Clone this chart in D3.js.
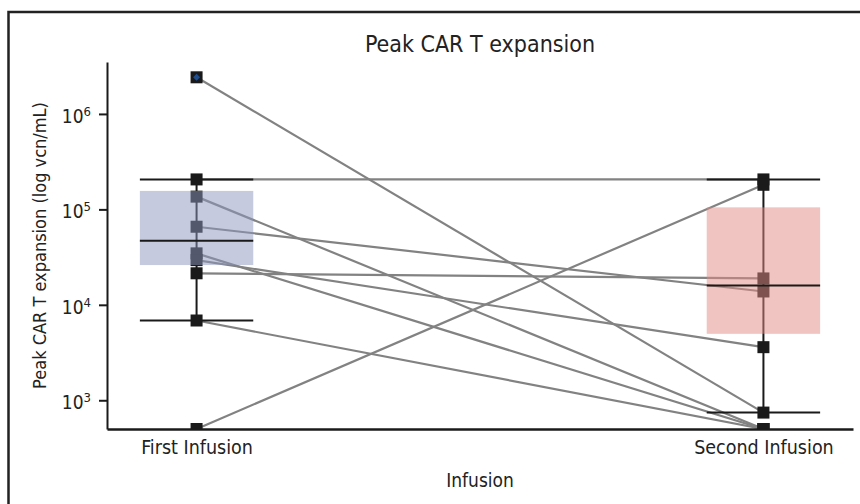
<!DOCTYPE html>
<html>
<head>
<meta charset="utf-8">
<script src="https://cdn.jsdelivr.net/npm/d3@7"></script>
<style>
  html, body { margin: 0; padding: 0; background: #fff; }
  svg { display: block; }
  text { font-family: "DejaVu Sans Condensed", "Liberation Sans Narrow", "Noto Sans", sans-serif; fill: #222; }
</style>
</head>
<body>
<script>
// Infusion groups on the x axis
const categories = ["First Infusion", "Second Infusion"];

// Peak CAR T expansion per patient (vcn/mL); index i is the same patient in both arrays
const firstInfusion  = [2.42e6, 2.06e5, 1.36e5, 6.58e4, 3.46e4, 2.94e4, 2.14e4, 6.85e3, 500];
const secondInfusion = [743,    2.06e5, 500,    1.38e4, 500,    3.6e3,  1.89e4, 500,    1.81e5];

// Summary box per group: box bounds, centre line and whisker caps
const boxLow      = [2.61e4, 4.97e3];
const boxHigh     = [1.56e5, 1.05e5];
const boxMid      = [4.69e4, 1.59e4];
const whiskerLow  = [6.85e3, 743];
const whiskerHigh = [2.06e5, 2.06e5];

// Log-axis ticks (base and exponent)
const tickExponents = [3, 4, 5, 6];

const boxColors = ["rgba(139,149,189,0.5)", "rgba(225,137,129,0.5)"];

const W = 860, H = 504;
const plot = { left: 107, right: 853, top: 62, bottom: 429 };

const svg = d3.select("body").append("svg").attr("width", W).attr("height", H);

// outer frame
svg.append("rect")
  .attr("x", 8.5).attr("y", 12).attr("width", 900).attr("height", 600)
  .attr("fill", "none").attr("stroke", "#222").attr("stroke-width", 2.5);

const x = d3.scalePoint().domain(categories).range([plot.left, plot.right]).padding(0.158);
const y = d3.scaleLog().domain([500, 3.5e6]).range([plot.bottom, plot.top]);
const boxW = x.step() * 0.2;

svg.append("clipPath").attr("id", "plot-clip")
  .append("rect")
  .attr("x", plot.left).attr("y", plot.top)
  .attr("width", plot.right - plot.left).attr("height", plot.bottom - plot.top);

const g = svg.append("g").attr("clip-path", "url(#plot-clip)");

// paired lines between infusions
g.append("g").selectAll("line")
  .data(firstInfusion.map((v, i) => [v, secondInfusion[i]]))
  .join("line")
  .attr("x1", x(categories[0])).attr("y1", d => y(d[0]))
  .attr("x2", x(categories[1])).attr("y2", d => y(d[1]))
  .attr("stroke", "#828282").attr("stroke-width", 2.2);

// whisker stems
g.append("g").selectAll("line")
  .data(categories)
  .join("line")
  .attr("x1", d => x(d)).attr("x2", d => x(d))
  .attr("y1", (d, i) => y(whiskerHigh[i])).attr("y2", (d, i) => y(whiskerLow[i]))
  .attr("stroke", "#1a1a1a").attr("stroke-width", 2);

// patient markers
const pts = [];
categories.forEach((c, ci) => {
  (ci === 0 ? firstInfusion : secondInfusion).forEach(v => pts.push({ c, v }));
});
const ms = 12;
g.append("g").selectAll("rect")
  .data(pts)
  .join("rect")
  .attr("x", d => x(d.c) - ms / 2).attr("y", d => y(d.v) - ms / 2)
  .attr("width", ms).attr("height", ms)
  .attr("fill", "#1a1a1a");

// highlighted maximum on the first infusion
const maxV = d3.max(firstInfusion);
g.append("path")
  .attr("d", d3.symbol(d3.symbolDiamond2, 30)())
  .attr("transform", `translate(${x(categories[0])},${y(maxV)})`)
  .attr("fill", "#1f4f8f");

// boxes
g.append("g").selectAll("rect")
  .data(categories)
  .join("rect")
  .attr("x", d => x(d) - boxW / 2).attr("width", boxW)
  .attr("y", (d, i) => y(boxHigh[i]))
  .attr("height", (d, i) => y(boxLow[i]) - y(boxHigh[i]))
  .attr("fill", (d, i) => boxColors[i]);

// centre lines and caps
const hLines = [];
categories.forEach((c, i) => {
  hLines.push({ c, v: boxMid[i] }, { c, v: whiskerLow[i] }, { c, v: whiskerHigh[i] });
});
g.append("g").selectAll("line")
  .data(hLines)
  .join("line")
  .attr("x1", d => x(d.c) - boxW / 2).attr("x2", d => x(d.c) + boxW / 2)
  .attr("y1", d => y(d.v)).attr("y2", d => y(d.v))
  .attr("stroke", "#1a1a1a").attr("stroke-width", 2);

// y axis
const yAxis = svg.append("g")
  .attr("transform", `translate(${plot.left},0)`)
  .call(d3.axisLeft(y)
    .tickValues(tickExponents.map(e => Math.pow(10, e)))
    .tickSize(8).tickSizeOuter(0).tickPadding(8)
    .tickFormat(""));
yAxis.select(".domain").attr("stroke", "#1a1a1a").attr("stroke-width", 2);
yAxis.selectAll(".tick line").attr("stroke", "#1a1a1a").attr("stroke-width", 2);
yAxis.selectAll(".tick text")
  .attr("font-size", 19)
  .attr("dy", "0.45em")
  .each(function (d, i) {
    const t = d3.select(this);
    t.append("tspan").text("10");
    t.append("tspan").attr("dy", "-0.55em").attr("font-size", 13).text(tickExponents[i]);
  });

// x axis
const xAxis = svg.append("g")
  .attr("transform", `translate(0,${plot.bottom})`)
  .call(d3.axisBottom(x).tickSize(0).tickSizeOuter(0).tickPadding(11));
xAxis.select(".domain").attr("stroke", "#1a1a1a").attr("stroke-width", 2.5);
xAxis.selectAll(".tick text").attr("font-size", 19.5);

// titles
svg.append("text")
  .attr("x", (plot.left + plot.right) / 2).attr("y", 52)
  .attr("text-anchor", "middle").attr("font-size", 23)
  .text("Peak CAR T expansion");

svg.append("text")
  .attr("x", (plot.left + plot.right) / 2).attr("y", 487)
  .attr("text-anchor", "middle").attr("font-size", 19)
  .text("Infusion");

svg.append("text")
  .attr("transform", `translate(46,${(plot.top + plot.bottom) / 2}) rotate(-90)`)
  .attr("text-anchor", "middle").attr("font-size", 18)
  .text("Peak CAR T expansion (log vcn/mL)");
</script>
</body>
</html>
